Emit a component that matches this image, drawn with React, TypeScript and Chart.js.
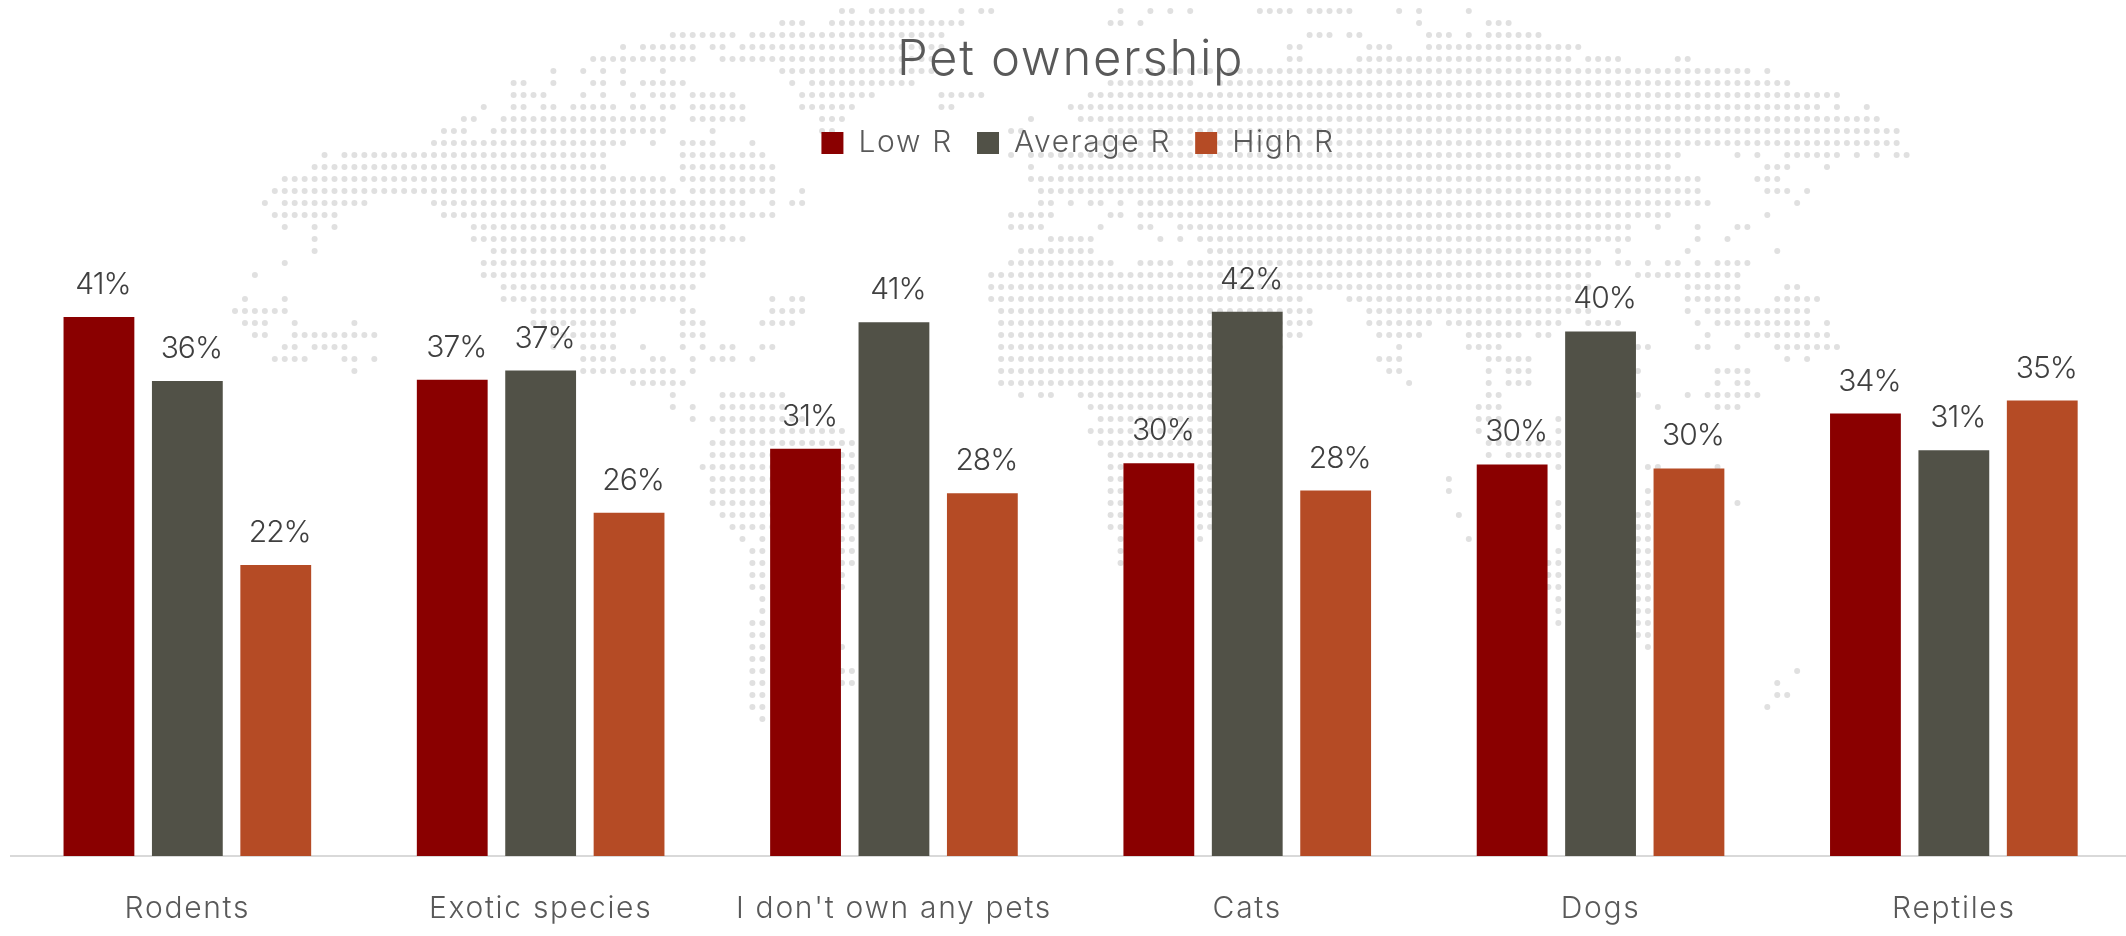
import React, { useEffect, useRef } from "react";
import { Chart, registerables } from "chart.js";

Chart.register(...registerables);

const categories = ["Rodents", "Exotic species", "I don't own any pets", "Cats", "Dogs", "Reptiles"];
const lowR = [41.3, 36.5, 31.2, 30.1, 30.0, 33.9];
const averageR = [36.4, 37.2, 40.9, 41.7, 40.2, 31.1];
const highR = [22.3, 26.3, 27.8, 28.0, 29.7, 34.9];

const FONT = "Inter, 'Noto Sans', sans-serif";

// Dotted world map behind the bars: one entry per dot row, holding column spans.
const mapRows = [
  "61-62,64-69,73,75-76,89,92,94,96,103-106,108-112,117,119,124",
  "55-57,60-73,88-89,91,119,126-128",
  "44-50,52-71,108-110,112-113,120-122,124,126-131",
  "39,41-46,48-49,51-71,106-107,114-116,120-135",
  "36-46,49-70,106-107,113-134,136-139,145-146",
  "32,35,37,39,43,55-70,91-152,154",
  "28-29,32,36-37,39,41-45,56,58-68,88-96,99-156",
  "28-31,35,37,40,42-44,46-50,57-64,71-75,86-161",
  "25,28-29,31-32,34-38,40-41,43-44,46-51,57-62,71-72,84-159,161,164",
  "23-24,27-43,46-51,59-61,80,85-165",
  "21-23,26-43,48,59-60,78-79,88-167",
  "20-39,42,45-48,52,86-167",
  "9,11-37,45-53,78,80-145,151,153,156-161,163,165,167-168",
  "8-37,45-54,80,83-144,154-156,160",
  "5-43,45-54,80-147,153-155",
  "4-44,46-54,57,81-147,154-156,158",
  "3,5-13,20-51,54,56-57,81-82,84,86-87,89,91-148,157",
  "4-10,21-54,78-82,88-89,91-144,154",
  "5,8,10,24-49,78-81,87,91-92,95-140,143,147,151-152",
  "8,24-51,82-86,93,95,97-140,147,150",
  "8,26-47,79-86,98-136,139,146,155",
  "5,25-47,78-88,91-94,96-137,139-140,142,144-145,147,149-152",
  "2,25-47,76-136,141-151",
  "27-46,76-136,146-151,156-157",
  "1,5,27-45,54,56-57,76-107,112-134,146-151,155-159",
  "0-5,30-40,45-46,54-57,77-108,114-136,146,148-158",
  "1-3,6,12,30-38,45-47,53-56,77-108,114-120,122-133,136-139,147,149-158,160",
  "2-3,6-14,32-38,45-47,77-107,115-119,124-129,131-132,148,152-160",
  "5-6,8-11,32,35-38,41,45,47,49-50,53-54,77-105,117,124-127,141-142,147-148,151,155-161",
  "4-7,11-12,14,35-38,42-43,46,48-50,52,77-98,115-117,126-130,156,158",
  "12,35-44,46,77-98,116-117,126,128-130,141,149-152",
  "40-45,77-98,118,126,128-130,149,151-152",
  "44,49-55,79,81-82,85-98,126-127,141,146,148-153",
  "44,46,49-55,86-98,125-127,143,149-151",
  "46,48-57,87-98,125-127,133",
  "49-61,86-98,125,127,133",
  "48-62,87-98,126-133",
  "48-62,88-98,126,128-133",
  "47-62,88-98,133,142-143,149",
  "48-62,88-98,122",
  "48-62,88-98,122,142",
  "48-62,88-89,97-98,133,142,151",
  "49-62,88-89,97-98,123,133,141-142",
  "50-62,88-89,97-98,133,141-142",
  "51,53,61-62,89,97,124,141-142",
  "52-53,61-62,89,133,141-142",
  "52-53,61-62,89,132-133,141-142",
  "52-53,61,132-133,141-142",
  "52-53,61,132-133,141-142",
  "53,133,141-142",
  "53,133,141-142",
  "52-53,133,141-142",
  "52-53,141-142",
  "52-53,61,142",
  "52-53",
  "52-53,61-62,157",
  "52-53,61-62,155",
  "52-53,155-156",
  "52-53,154",
  "53",
];

// Wider tracking for title, legend and axis text.
const textTracking = {
  id: "textTracking",
  beforeUpdate(chart: Chart) {
    (chart.ctx as any).letterSpacing = "1.7px";
  },
  beforeDraw(chart: Chart) {
    (chart.ctx as any).letterSpacing = "1.7px";
  },
};

// The legend row sits slightly right of the title's centre line.
const legendNudge = {
  id: "legendNudge",
  afterLayout(chart: Chart) {
    const legend = chart.legend as any;
    legend.left += 7.5;
    legend.right += 7.5;
  },
};

const mapBackdrop = {
  id: "mapBackdrop",
  beforeDraw(chart: Chart) {
    const { ctx } = chart;
    ctx.save();
    ctx.fillStyle = "#e0e0e0";
    mapRows.forEach((row, r) => {
      const y = 11 + 12 * r;
      row.split(",").forEach((span) => {
        const [a, b] = span.split("-").map(Number);
        for (let c = a; c <= (b ?? a); c++) {
          ctx.beginPath();
          ctx.arc(235 + 9.95 * c, y, 3, 0, Math.PI * 2);
          ctx.fill();
        }
      });
    });
    ctx.restore();
  },
};

// Rounded percentages above each bar.
const barValueLabels = {
  id: "barValueLabels",
  afterDatasetsDraw(chart: Chart) {
    const { ctx } = chart;
    ctx.save();
    (ctx as any).letterSpacing = "-1px";
    ctx.font = `300 30px ${FONT}`;
    ctx.fillStyle = "#404040";
    ctx.textAlign = "center";
    ctx.textBaseline = "alphabetic";
    chart.data.datasets.forEach((ds, i) => {
      chart.getDatasetMeta(i).data.forEach((bar, j) => {
        ctx.fillText(`${Math.round(ds.data[j] as number)}%`, bar.x + 4, bar.y - 23);
      });
    });
    ctx.restore();
  },
};

export default function App() {
  const ref = useRef<HTMLCanvasElement>(null);

  useEffect(() => {
    const chart = new Chart(ref.current!, {
      type: "bar",
      data: {
        labels: categories,
        datasets: [
          { label: "Low R", data: lowR, backgroundColor: "#8a0000" },
          { label: "Average R", data: averageR, backgroundColor: "#515147" },
          { label: "High R", data: highR, backgroundColor: "#b54b25" },
        ],
      },
      options: {
        animation: false,
        responsive: false,
        layout: { padding: { left: 10.7, right: 11.5, top: 0, bottom: 0 } },
        datasets: { bar: { categoryPercentage: 0.7507, barPercentage: 0.801 } },
        scales: {
          x: {
            grid: { display: false },
            border: { color: "#d9d9d9", width: 2 },
            ticks: {
              autoSkip: false,
              maxRotation: 0,
              padding: 27,
              color: "#595959",
              font: { family: FONT, size: 30, weight: "300" },
            },
            afterFit(scale: any) {
              scale.height = 80;
            },
          },
          y: { display: false, min: 0, max: 52.72 },
        },
        plugins: {
          title: {
            display: true,
            text: "Pet ownership",
            color: "#595959",
            font: { family: FONT, size: 49, weight: "300", lineHeight: 1 },
            padding: { top: 36, bottom: 19 },
          },
          legend: {
            display: true,
            position: "top",
            labels: {
              boxWidth: 22,
              boxHeight: 22,
              padding: 24,
              color: "#595959",
              font: { family: FONT, size: 30, weight: "300" },
            },
          },
          tooltip: { enabled: false },
        },
      },
      plugins: [textTracking, legendNudge, mapBackdrop, barValueLabels],
    });
    return () => chart.destroy();
  }, []);

  return (
    <div style={{ position: "fixed", left: 0, top: 0, width: 2126, height: 936, overflow: "hidden", background: "#fff" }}>
      <canvas ref={ref} width={2142} height={936} style={{ display: "block" }} />
    </div>
  );
}
